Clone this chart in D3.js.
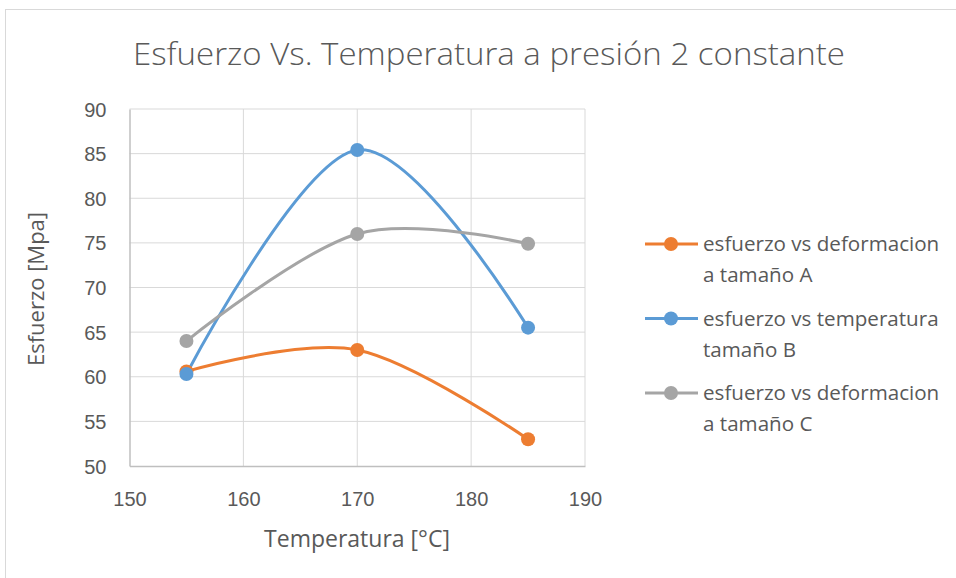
<!DOCTYPE html>
<html>
<head>
<meta charset="utf-8">
<script src="https://cdn.jsdelivr.net/npm/d3@7"></script>
<style>
  body { margin: 0; background: #fff; }
  svg { display: block; font-family: "Open Sans", sans-serif; }
</style>
</head>
<body>
<div class="chart"></div>
<script>
var w = 956;
var h = 578;

var temps = [155, 170, 185];
var serieA = [60.6, 63.0, 53.0];
var serieB = [60.3, 85.4, 65.5];
var serieC = [64.0, 76.0, 74.9];
var seriesNames = [
	["esfuerzo vs deformacion", "a tamaño A"],
	["esfuerzo vs temperatura", "tamaño B"],
	["esfuerzo vs deformacion", "a tamaño C"]
];
var colors = ["#ED7D31", "#5B9BD5", "#A5A5A5"];
var xTicks = [150, 160, 170, 180, 190];
var yTicks = [50, 55, 60, 65, 70, 75, 80, 85, 90];

var svg = d3.select(".chart")
	.append("svg")
	.attr("width", w)
	.attr("height", h);

// outer chart border
svg.append("rect")
	.attr("x", 5.5).attr("y", 9.5)
	.attr("width", 1000).attr("height", 1000)
	.attr("fill", "#fff")
	.attr("stroke", "#D9D9D9");

var x = d3.scaleLinear().domain([150, 190]).range([129.5, 585]);
var y = d3.scaleLinear().domain([50, 90]).range([466, 109]);

// gridlines
svg.append("g").selectAll("line")
	.data(yTicks.slice(1))
	.enter().append("line")
	.attr("x1", x(150)).attr("x2", x(190))
	.attr("y1", function(d){ return y(d); })
	.attr("y2", function(d){ return y(d); })
	.attr("stroke", "#D9D9D9").attr("stroke-width", 1);

svg.append("g").selectAll("line")
	.data(xTicks.slice(1))
	.enter().append("line")
	.attr("y1", y(50)).attr("y2", y(90))
	.attr("x1", function(d){ return x(d); })
	.attr("x2", function(d){ return x(d); })
	.attr("stroke", "#D9D9D9").attr("stroke-width", 1);

// axes
var xAxis = svg.append("g")
	.attr("transform", "translate(0," + y(50) + ")")
	.call(d3.axisBottom(x).tickValues(xTicks).tickSize(0).tickPadding(26));
var yAxis = svg.append("g")
	.attr("transform", "translate(" + x(150) + ",0)")
	.call(d3.axisLeft(y).tickValues(yTicks).tickSize(0).tickPadding(23));

[xAxis, yAxis].forEach(function(a){
	a.select(".domain").attr("stroke", "#BFBFBF").attr("stroke-width", 1.5);
	a.selectAll("text")
		.attr("fill", "#595959")
		.style("font-size", "20px");
});
xAxis.selectAll("text").attr("dy", "0.71em");
yAxis.selectAll("text").attr("dy", "0.35em");

// axis titles
svg.append("text")
	.attr("x", 357).attr("y", 547)
	.attr("text-anchor", "middle")
	.attr("fill", "#595959")
	.style("font-size", "23px")
	.text("Temperatura [°C]");

svg.append("text")
	.attr("transform", "translate(44,289) rotate(-90)")
	.attr("text-anchor", "middle")
	.attr("fill", "#595959")
	.style("font-size", "22px")
	.text("Esfuerzo [Mpa]");

// title
svg.append("text")
	.attr("x", 489).attr("y", 65)
	.attr("text-anchor", "middle")
	.attr("fill", "#595959")
	.style("font-size", "31px")
	.style("font-weight", "300")
	.attr("textLength", 712)
	.attr("lengthAdjust", "spacingAndGlyphs")
	.text("Esfuerzo Vs. Temperatura a presión 2 constante");

// series
var allSeries = [serieA, serieB, serieC];
var line = d3.line()
	.x(function(d, i){ return x(temps[i]); })
	.y(function(d){ return y(d); })
	.curve(d3.curveCatmullRom.alpha(0));

allSeries.forEach(function(vals, k){
	svg.append("path")
		.attr("d", line(vals))
		.attr("fill", "none")
		.attr("stroke", colors[k])
		.attr("stroke-width", 3)
		.attr("stroke-linecap", "round");
});
allSeries.forEach(function(vals, k){
	svg.append("g").selectAll("circle")
		.data(vals)
		.enter().append("circle")
		.attr("cx", function(d, i){ return x(temps[i]); })
		.attr("cy", function(d){ return y(d); })
		.attr("r", 7)
		.attr("fill", colors[k]);
});

// legend
var legend = svg.append("g");
var rows = [244, 318.5, 393];
seriesNames.forEach(function(name, k){
	var g = legend.append("g").attr("transform", "translate(0," + rows[k] + ")");
	g.append("line")
		.attr("x1", 645).attr("x2", 698)
		.attr("stroke", colors[k]).attr("stroke-width", 3);
	g.append("circle")
		.attr("cx", 671).attr("r", 7)
		.attr("fill", colors[k]);
	name.forEach(function(t, j){
		g.append("text")
			.attr("x", 703).attr("y", j * 31)
			.attr("dy", "0.35em")
			.attr("fill", "#595959")
			.style("font-size", "20.6px")
			.text(t);
	});
});
</script>
</body>
</html>
